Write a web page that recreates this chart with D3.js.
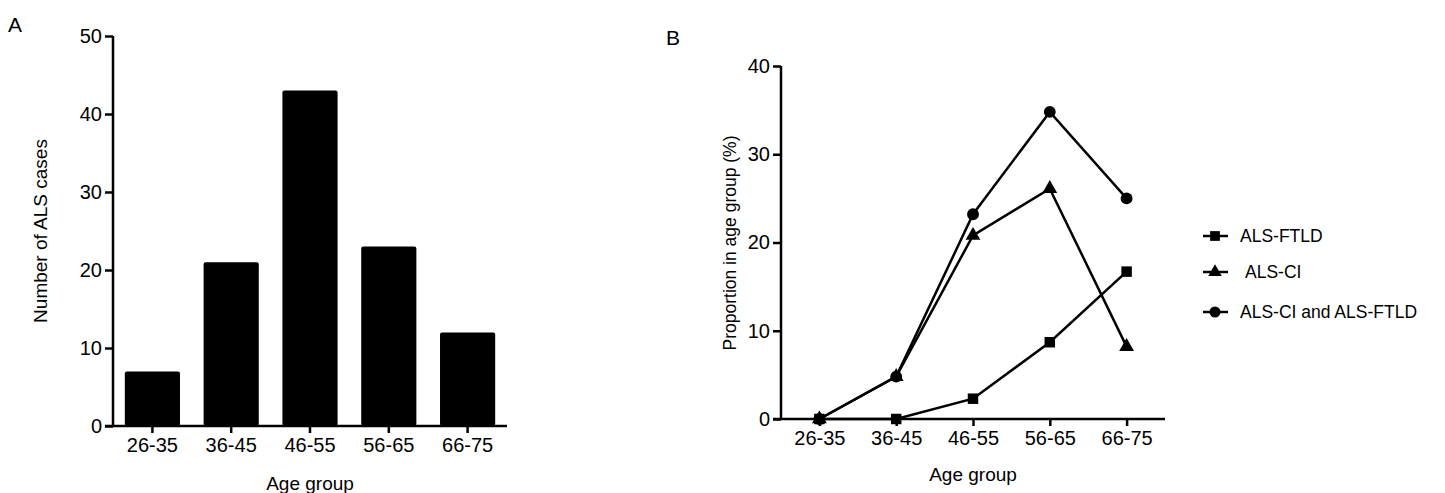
<!DOCTYPE html>
<html><head><meta charset="utf-8">
<script src="https://cdn.jsdelivr.net/npm/d3@7"></script>
<style>body{margin:0;background:#fff}text{font-family:"Liberation Sans",Arial,sans-serif;fill:#000}</style>
</head><body><svg id="c" width="1445" height="493"></svg>
<script>
var ageGroups = ["26-35","36-45","46-55","56-65","66-75"];
var alsCases = [7,21,43,23,12];
var alsFtld = [0,0,2.3,8.7,16.7];
var alsCi = [0,4.8,20.8,26.1,8.2];
var alsCiAndFtld = [0,4.8,23.2,34.8,25];
var seriesNames = ["ALS-FTLD","ALS-CI","ALS-CI and ALS-FTLD"];
var seriesSymbols = [d3.symbolSquare,d3.symbolTriangle,d3.symbolCircle];

var svg = d3.select("#c");

// panel A
var xa = d3.scaleBand().domain(ageGroups).range([113,507]).paddingInner(0.3).paddingOuter(0.15);
var ya = d3.scaleLinear().domain([0,50]).range([426,36]);
svg.append("g").selectAll("rect").data(alsCases).join("rect")
  .attr("x",(d,i)=>xa(ageGroups[i])).attr("width",xa.bandwidth())
  .attr("y",d=>ya(d)).attr("height",d=>ya(0)-ya(d)).attr("rx",2).attr("fill","#000");
var gxa = svg.append("g").attr("transform","translate(0,426)")
  .call(d3.axisBottom(xa).tickSize(7).tickPadding(5));
gxa.select(".domain").attr("d","M105,0H507");
var gya = svg.append("g").attr("transform","translate(113,0)")
  .call(d3.axisLeft(ya).ticks(5).tickSize(8).tickPadding(3));

// panel B
var xb = d3.scalePoint().domain(ageGroups).range([781,1165]).padding(0.5);
var yb = d3.scaleLinear().domain([0,40]).range([419,66]);
var gxb = svg.append("g").attr("transform","translate(0,419)")
  .call(d3.axisBottom(xb).tickSize(7).tickPadding(5));
gxb.select(".domain").attr("d","M773,0H1165");
var gyb = svg.append("g").attr("transform","translate(781,0)")
  .call(d3.axisLeft(yb).ticks(4).tickSize(8).tickPadding(3));

[gxa,gya,gxb,gyb].forEach(function(g){
  g.selectAll("path,line").attr("stroke","#000").attr("stroke-width",2.5);
  g.selectAll("text").style("font-size","20px");
});
gya.select(".domain").attr("d","M0,36V426");
gyb.select(".domain").attr("d","M0,66V419");

var line = d3.line().x((d,i)=>xb(ageGroups[i])).y(d=>yb(d));
[alsFtld,alsCi,alsCiAndFtld].forEach(function(s,k){
  svg.append("path").datum(s).attr("d",line).attr("fill","none").attr("stroke","#000").attr("stroke-width",2.5);
  svg.append("g").selectAll("path").data(s).join("path")
    .attr("transform",(d,i)=>"translate("+xb(ageGroups[i])+","+yb(d)+")")
    .attr("d",d3.symbol(seriesSymbols[k],k==1?95:110)).attr("fill","#000");
});

// legend
var legY = [236,272,312];
seriesNames.forEach(function(n,k){
  var g = svg.append("g").attr("transform","translate(1203,"+legY[k]+")");
  g.append("line").attr("x1",0).attr("x2",25).attr("stroke","#000").attr("stroke-width",2.5);
  g.append("path").attr("transform","translate(12,0)").attr("d",d3.symbol(seriesSymbols[k],k==1?80:95)).attr("fill","#000");
  g.append("text").attr("x",k==1?42:37).attr("y",6).style("font-size","17.5px").text(n);
});

// labels
svg.append("text").attr("x",8).attr("y",32).style("font-size","21px").text("A");
svg.append("text").attr("x",666).attr("y",45).style("font-size","21px").text("B");
svg.append("text").attr("x",310).attr("y",490).attr("text-anchor","middle").style("font-size","19px").text("Age group");
svg.append("text").attr("x",973).attr("y",481).attr("text-anchor","middle").style("font-size","19px").text("Age group");
svg.append("text").attr("transform","translate(47,231) rotate(-90)").attr("text-anchor","middle").style("font-size","19px").text("Number of ALS cases");
svg.append("text").attr("transform","translate(736,243) rotate(-90)").attr("text-anchor","middle").style("font-size","17.5px").text("Proportion in age group (%)");
</script></body></html>
